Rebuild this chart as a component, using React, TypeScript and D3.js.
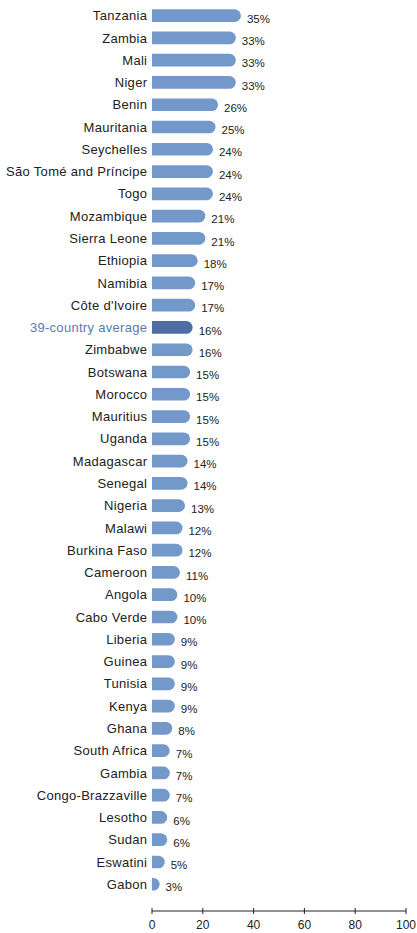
import React from "react";
import * as d3 from "d3";

const countries = [
  "Tanzania", "Zambia", "Mali", "Niger", "Benin", "Mauritania", "Seychelles",
  "São Tomé and Príncipe", "Togo", "Mozambique", "Sierra Leone", "Ethiopia",
  "Namibia", "Côte d'Ivoire", "39-country average", "Zimbabwe", "Botswana",
  "Morocco", "Mauritius", "Uganda", "Madagascar", "Senegal", "Nigeria", "Malawi",
  "Burkina Faso", "Cameroon", "Angola", "Cabo Verde", "Liberia", "Guinea",
  "Tunisia", "Kenya", "Ghana", "South Africa", "Gambia", "Congo-Brazzaville",
  "Lesotho", "Sudan", "Eswatini", "Gabon",
];
const values = [
  35, 33, 33, 33, 26, 25, 24, 24, 24, 21, 21, 18, 17, 17, 16, 16, 15, 15, 15, 15,
  14, 14, 13, 12, 12, 11, 10, 10, 9, 9, 9, 9, 8, 7, 7, 7, 6, 6, 5, 3,
];
const highlight = "39-country average";
const ticks = [0, 20, 40, 60, 80, 100];

const W = 417;
const H = 933;
const FONT = "'Liberation Sans', Arial, sans-serif";

export default function App() {
  const x = d3.scaleLinear().domain([0, 100]).range([152, 406]);
  const y = d3
    .scaleBand<string>()
    .domain(countries)
    .range([4.5, 895.4])
    .paddingInner(0.43)
    .paddingOuter(0.215);
  const bh = y.bandwidth();

  const barPath = (v: number) => {
    const x0 = x(0);
    const x1 = x(v);
    const w = x1 - x0;
    const r = Math.min(bh / 2, w);
    return (yy: number) => {
      const p = d3.path();
      p.moveTo(x0, yy);
      p.lineTo(x1 - r, yy);
      p.arcTo(x1, yy, x1, yy + bh / 2, r);
      p.lineTo(x1, yy + bh - r);
      p.arcTo(x1, yy + bh, x1 - r, yy + bh, r);
      p.lineTo(x0, yy + bh);
      p.closePath();
      return p.toString();
    };
  };

  const axisY = 911;

  return (
    <svg
      width={W}
      height={H}
      style={{ position: "absolute", left: 0, top: 0, background: "#fff" }}
      fontFamily={FONT}
    >
      {countries.map((c, i) => {
        const v = values[i];
        const yy = y(c)!;
        const isAvg = c === highlight;
        return (
          <g key={c}>
            <text
              x={147.3}
              y={yy + bh / 2}
              dy="0.36em"
              textAnchor="end"
              fontSize={13}
              letterSpacing={0.3}
              fill={isAvg ? "#5b7bae" : "#222"}
            >
              {c}
            </text>
            <path d={barPath(v)(yy)} fill={isAvg ? "#4f6ea6" : "#7398ca"} />
            <text
              x={x(v) + 6}
              y={yy + bh / 2 + 3}
              dy="0.36em"
              fontSize={11.5}
              fill="#222"
            >
              {v}%
            </text>
          </g>
        );
      })}
      <line x1={x(0)} x2={x(100)} y1={axisY} y2={axisY} stroke="#222" strokeWidth={1} />
      {ticks.map((t) => (
        <g key={t}>
          <line x1={x(t)} x2={x(t)} y1={axisY - 3} y2={axisY + 3} stroke="#222" strokeWidth={1} />
          <text x={x(t)} y={axisY + 18} textAnchor="middle" fontSize={12} fill="#222">
            {t}
          </text>
        </g>
      ))}
    </svg>
  );
}
